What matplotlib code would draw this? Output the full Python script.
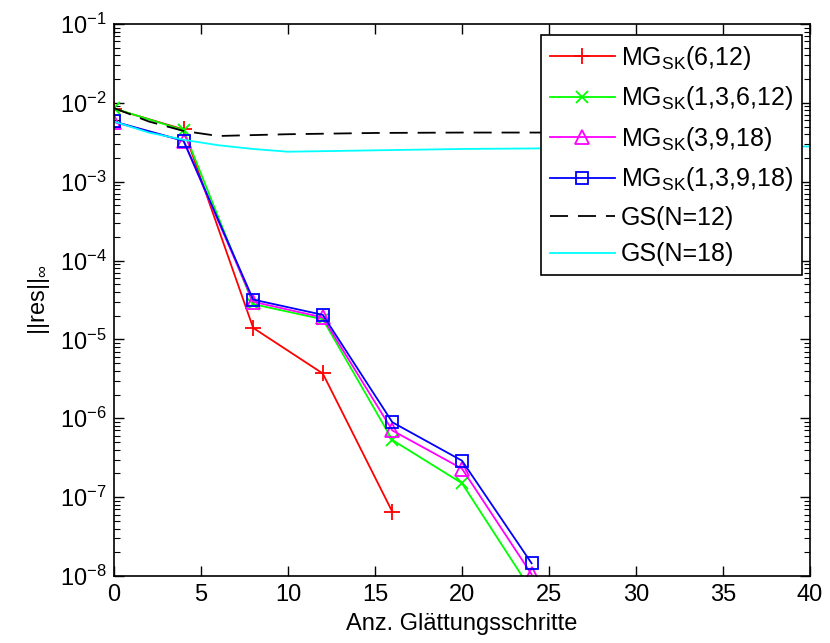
import numpy as np
import matplotlib.pyplot as plt

plt.rcParams['font.family'] = ['Liberation Sans', 'DejaVu Sans']
plt.rcParams['mathtext.fontset'] = 'custom'
plt.rcParams['mathtext.rm'] = 'Liberation Sans'
plt.rcParams['mathtext.it'] = 'Liberation Sans:italic'
plt.rcParams['mathtext.default'] = 'regular'

# multigrid runs (smoothing steps vs residual)
x_mg_a = [0, 4, 8, 12, 16]
mg_6_12 = [8.4e-3, 4.6e-3, 1.4e-5, 3.7e-6, 6.5e-8]

x_mg_b = [0, 4, 8, 12, 16, 20, 24]
mg_1_3_6_12 = [8.5e-3, 4.5e-3, 2.8e-5, 1.8e-5, 5.3e-7, 1.5e-7, 6.5e-9]
mg_3_9_18 = [5.7e-3, 3.3e-3, 3.0e-5, 1.9e-5, 7.0e-7, 2.3e-7, 1.05e-8]
mg_1_3_9_18 = [5.8e-3, 3.3e-3, 3.2e-5, 2.05e-5, 8.9e-7, 2.9e-7, 1.45e-8]

# Gauss-Seidel runs
x_gs = [0, 2, 4, 6, 8, 10, 15, 20, 25, 30, 35, 40]
gs_12 = [8.6e-3, 5.8e-3, 4.4e-3, 3.8e-3, 3.9e-3, 4.0e-3, 4.15e-3, 4.2e-3, 4.2e-3, 4.2e-3, 4.2e-3, 4.2e-3]
gs_18 = [5.8e-3, 4.2e-3, 3.4e-3, 2.9e-3, 2.6e-3, 2.4e-3, 2.5e-3, 2.6e-3, 2.65e-3, 2.7e-3, 2.75e-3, 2.8e-3]

fig = plt.figure(figsize=(8.3, 6.43), dpi=100)
ax = fig.add_axes([0.1373, 0.1042, 0.8386, 0.8585])

lw = 1.3
ax.semilogy(x_mg_a, mg_6_12, color='red', marker='+', ms=12, mew=1.3, lw=lw,
            label=r'MG$_{SK}$(6,12)')
ax.semilogy(x_mg_b, mg_1_3_6_12, color='#00ff00', marker='x', ms=8, mew=1.3, lw=lw,
            label=r'MG$_{SK}$(1,3,6,12)')
ax.semilogy(x_mg_b, mg_3_9_18, color='magenta', marker='^', ms=10, mfc='none', mew=1.3, lw=lw,
            label=r'MG$_{SK}$(3,9,18)')
ax.semilogy(x_mg_b, mg_1_3_9_18, color='blue', marker='s', ms=9, mfc='none', mew=1.3, lw=lw,
            label=r'MG$_{SK}$(1,3,9,18)')
ax.semilogy(x_gs, gs_12, color='black', ls=(0, (10, 5.5)), lw=lw, label='GS(N=12)')
ax.semilogy(x_gs, gs_18, color='cyan', lw=lw, label='GS(N=18)')

ax.set_xlim(0, 40)
ax.set_ylim(1e-8, 1e-1)
ax.set_xticks([0, 5, 10, 15, 20, 25, 30, 35, 40])
ax.tick_params(which='both', direction='in', top=True, right=True, labelsize=17)
ax.tick_params(axis='x', pad=6)
ax.tick_params(axis='y', pad=5)
ax.tick_params(which='major', length=7, width=1)
ax.tick_params(which='minor', length=4, width=0.8)
for s in ax.spines.values():
    s.set_linewidth(1.2)

ax.set_xlabel('Anz. Glättungsschritte', fontsize=17, labelpad=5)
ax.set_ylabel(r'||res||$_\infty$', fontsize=17, labelpad=6)

leg = ax.legend(loc='upper right', bbox_to_anchor=(802 / 830, 1 - 35 / 643),
                bbox_transform=fig.transFigure, borderaxespad=0,
                fontsize=18, fancybox=False, framealpha=1, edgecolor='black',
                handlelength=2.6, handletextpad=0.25, labelspacing=0.5, borderpad=0.35)
leg.get_frame().set_linewidth(1.2)

fig.savefig('out.png', dpi=100)
